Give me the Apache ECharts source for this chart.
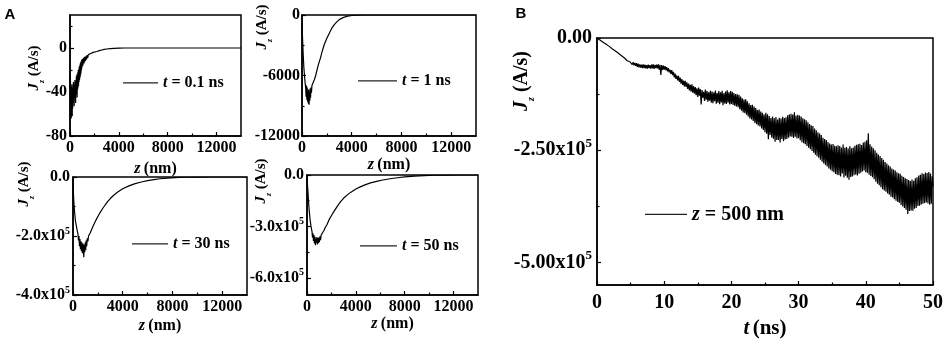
<!DOCTYPE html>
<html><head><meta charset="utf-8">
<script src="https://cdn.jsdelivr.net/npm/echarts@6/dist/echarts.min.js"></script>
<style>html,body{margin:0;padding:0;background:#fff}#c{width:951px;height:347px}</style>
</head><body><div id="c"></div>
<script>
// ---------- DATA ----------
// Panel A: J_z vs z (nm) at four times, [z, Jz]
const curveA1 = [[0,-24],[20,-38],[40,-30],[60,-52],[80,-35],[100,-64],[120,-41],[140,-58],[160,-33],[180,-62],[200,-45],[220,-55],[240,-36],[260,-50],[280,-31],[300,-48],[320,-38],[340,-53],[360,-33],[380,-46],[400,-29],[420,-44],[440,-35],[460,-50],[480,-30],[500,-42],[520,-26],[540,-40],[560,-24],[580,-45],[600,-28],[620,-38],[640,-22],[660,-36],[680,-20],[700,-34],[720,-19],[740,-31],[760,-17],[780,-29],[800,-16],[820,-27],[840,-14],[860,-25],[880,-13],[900,-23],[920,-12],[940,-20],[960,-11],[980,-18],[1000,-10],[1050,-16],[1100,-9],[1150,-14],[1200,-8],[1250,-12],[1300,-7.5],[1350,-10.5],[1400,-6.5],[1450,-9],[1500,-6],[1600,-7.5],[1700,-5],[1800,-5.8],[1900,-4],[2000,-4.3],[2200,-3.2],[2400,-2.4],[2600,-1.8],[2800,-1.3],[3000,-0.9],[3300,-0.5],[3600,-0.3],[4000,-0.1],[4500,0],[8000,0],[14000,0]];
const curveA2 = [[0,-800],[50,-2500],[100,-4000],[150,-5200],[200,-6000],[250,-6700],[300,-7300],[330,-8100],[360,-7000],[390,-8400],[420,-7200],[450,-8600],[480,-7500],[510,-8800],[540,-7400],[570,-8900],[600,-7600],[630,-8500],[660,-7300],[690,-8200],[720,-7200],[760,-7700],[800,-7000],[850,-7100],[900,-6700],[1000,-6400],[1100,-6000],[1200,-5500],[1300,-5000],[1400,-4600],[1500,-4200],[1600,-3700],[1700,-3300],[1800,-2900],[1900,-2600],[2000,-2300],[2200,-1800],[2400,-1300],[2600,-950],[2800,-680],[3000,-460],[3300,-260],[3600,-130],[4000,-50],[4500,-10],[5000,0],[14000,0]];
const curveA3 = [[0,-5000],[30,-50000],[60,-80000],[100,-105000],[150,-128000],[200,-150000],[270,-166000],[340,-182000],[400,-193000],[440,-215000],[480,-200000],[520,-235000],[560,-210000],[600,-245000],[640,-218000],[680,-252000],[720,-222000],[760,-258000],[800,-226000],[840,-248000],[870,-272000],[900,-230000],[940,-255000],[980,-222000],[1020,-248000],[1060,-215000],[1100,-235000],[1150,-208000],[1200,-218000],[1250,-200000],[1300,-200000],[1400,-188000],[1500,-178000],[1600,-168000],[1700,-159000],[1800,-150000],[1900,-142000],[2000,-134000],[2200,-119000],[2400,-106000],[2600,-94000],[2800,-83000],[3000,-73000],[3300,-61000],[3600,-51000],[4000,-40000],[4500,-30000],[5000,-22500],[5500,-17000],[6000,-12500],[6500,-9000],[7000,-6000],[7600,-3500],[8200,-2000],[9000,-800],[10000,-200],[11000,0],[14000,0]];
const curveA4 = [[0,-20000],[40,-60000],[80,-100000],[130,-160000],[190,-216000],[260,-265000],[330,-300000],[410,-330000],[450,-365000],[490,-340000],[530,-385000],[570,-350000],[610,-400000],[650,-360000],[690,-410000],[730,-370000],[770,-395000],[810,-362000],[850,-405000],[890,-368000],[930,-398000],[970,-365000],[1010,-392000],[1060,-358000],[1110,-380000],[1160,-350000],[1220,-360000],[1300,-340000],[1400,-322000],[1500,-305000],[1630,-290000],[1800,-262000],[2040,-232000],[2250,-208000],[2450,-186000],[2700,-160000],[2990,-136000],[3300,-116000],[3600,-100000],[4000,-82000],[4400,-68000],[4800,-56000],[5200,-46000],[5700,-37000],[6200,-29000],[6800,-22000],[7400,-16000],[8000,-11000],[8800,-6500],[9600,-3500],[10500,-1500],[11500,-500],[12500,-100],[14000,0]];

// Panel B: J_z vs t (ns) at z = 500 nm, sampled every dtB ns
const dtB = 0.125;
const jB = [
-0e3,-1.3e3,-2.4e3,-3.9e3,-5.1e3,-6.2e3,-7.6e3,-8.8e3,
-10.1e3,-11.6e3,-12.7e3,-13.9e3,-15.3e3,-16.2e3,-17.9e3,-19.2e3,
-21.3e3,-22.4e3,-23.8e3,-25.1e3,-26.0e3,-27.7e3,-29.1e3,-30.2e3,
-31.8e3,-33.6e3,-35.0e3,-36.3e3,-37.2e3,-39.4e3,-40.6e3,-42.1e3,
-44.5e3,-45.2e3,-47.8e3,-48.1e3,-50.6e3,-50.9e3,-53.2e3,-52.8e3,
-57.2e3,-52.1e3,-59.4e3,-53.8e3,-61.0e3,-55.3e3,-62.2e3,-56.0e3,
-64.1e3,-57.0e3,-65.3e3,-58.6e3,-66.0e3,-59.1e3,-67.2e3,-58.8e3,
-66.9e3,-59.5e3,-67.8e3,-60.2e3,-68.4e3,-59.3e3,-67.1e3,-60.6e3,
-68.2e3,-59.0e3,-67.5e3,-58.7e3,-69.0e3,-60.1e3,-66.9e3,-59.2e3,
-67.8e3,-58.9e3,-70.3e3,-59.6e3,-82.0e3,-60.5e3,-70.9e3,-61.4e3,
-70.2e3,-62.4e3,-71.8e3,-64.9e3,-74.3e3,-67.1e3,-76.5e3,-70.8e3,
-80.1e3,-71.6e3,-82.9e3,-75.4e3,-87.6e3,-79.2e3,-91.0e3,-83.5e3,
-94.3e3,-84.1e3,-97.5e3,-88.0e3,-101.9e3,-91.6e3,-104.2e3,-94.8e3,
-107.6e3,-95.2e3,-109.1e3,-98.7e3,-113.5e3,-101.4e3,-116.8e3,-104.0e3,
-119.3e3,-103.2e3,-121.7e3,-106.9e3,-124.0e3,-109.5e3,-127.1e3,-111.8e3,
-131.5e3,-110.4e3,-128.2e3,-113.7e3,-148.0e3,-116.1e3,-133.0e3,-119.6e3,
-140.2e3,-114.8e3,-137.5e3,-118.3e3,-141.9e3,-121.0e3,-139.4e3,-117.6e3,
-143.8e3,-119.5e3,-145.1e3,-121.2e3,-140.6e3,-116.9e3,-146.3e3,-122.7e3,
-144.0e3,-118.2e3,-147.5e3,-120.9e3,-143.3e3,-117.5e3,-149.8e3,-123.1e3,
-145.6e3,-119.4e3,-146.9e3,-116.2e3,-144.1e3,-120.7e3,-148.2e3,-118.0e3,
-146.7e3,-119.9e3,-149.3e3,-122.5e3,-151.0e3,-124.8e3,-152.6e3,-125.3e3,
-154.1e3,-126.3e3,-158.7e3,-130.2e3,-162.0e3,-134.4e3,-165.9e3,-137.1e3,
-167.2e3,-136.5e3,-170.8e3,-141.0e3,-174.6e3,-145.3e3,-178.9e3,-149.2e3,
-181.4e3,-148.6e3,-185.0e3,-152.7e3,-189.3e3,-156.2e3,-191.8e3,-160.5e3,
-194.6e3,-159.1e3,-197.2e3,-163.8e3,-201.5e3,-166.4e3,-205.0e3,-170.2e3,
-209.7e3,-166.3e3,-213.4e3,-170.1e3,-225.6e3,-173.8e3,-216.0e3,-178.2e3,
-221.5e3,-174.9e3,-224.2e3,-178.6e3,-230.8e3,-176.0e3,-226.9e3,-181.3e3,
-227.3e3,-177.8e3,-232.5e3,-179.2e3,-225.1e3,-175.4e3,-229.9e3,-178.0e3,
-226.0e3,-176.3e3,-224.7e3,-172.1e3,-221.9e3,-170.6e3,-219.4e3,-168.8e3,
-220.1e3,-170.2e3,-222.8e3,-165.5e3,-219.7e3,-172.9e3,-223.6e3,-171.1e3,
-223.0e3,-172.4e3,-227.5e3,-174.8e3,-231.9e3,-178.6e3,-234.2e3,-181.0e3,
-236.8e3,-183.2e3,-240.5e3,-187.9e3,-244.1e3,-191.6e3,-247.8e3,-194.3e3,
-251.7e3,-196.0e3,-255.3e3,-201.8e3,-259.9e3,-205.4e3,-263.1e3,-209.7e3,
-266.8e3,-212.5e3,-271.0e3,-216.3e3,-275.6e3,-221.9e3,-279.2e3,-224.8e3,
-282.7e3,-227.1e3,-285.9e3,-231.5e3,-290.4e3,-234.8e3,-293.1e3,-237.0e3,
-296.5e3,-236.2e3,-299.0e3,-239.8e3,-302.7e3,-241.1e3,-304.4e3,-238.6e3,
-305.8e3,-240.7e3,-308.1e3,-243.9e3,-301.6e3,-237.4e3,-310.5e3,-244.2e3,
-306.9e3,-242.5e3,-311.3e3,-246.0e3,-315.8e3,-240.8e3,-309.2e3,-245.7e3,
-308.4e3,-244.1e3,-305.7e3,-240.2e3,-303.9e3,-237.6e3,-306.2e3,-236.9e3,
-302.1e3,-235.4e3,-299.8e3,-238.1e3,-297.5e3,-232.7e3,-294.9e3,-231.2e3,
-298.8e3,-227.5e3,-300.3e3,-212.0e3,-304.6e3,-236.9e3,-307.2e3,-241.4e3,
-309.8e3,-245.6e3,-314.5e3,-250.1e3,-319.9e3,-255.7e3,-324.3e3,-259.2e3,
-327.6e3,-262.8e3,-332.1e3,-267.0e3,-336.5e3,-271.4e3,-339.8e3,-275.9e3,
-342.4e3,-279.3e3,-346.1e3,-283.6e3,-349.0e3,-286.2e3,-353.7e3,-290.5e3,
-355.2e3,-292.8e3,-358.9e3,-295.1e3,-362.4e3,-298.7e3,-365.0e3,-301.3e3,
-366.8e3,-302.5e3,-371.9e3,-306.6e3,-375.3e3,-309.4e3,-378.7e3,-312.2e3,
-382.5e3,-313.8e3,-392.0e3,-316.0e3,-385.1e3,-318.4e3,-383.9e3,-315.2e3,
-384.6e3,-317.7e3,-380.2e3,-312.3e3,-378.5e3,-309.9e3,-374.0e3,-306.1e3,
-373.3e3,-304.8e3,-370.6e3,-301.2e3,-368.9e3,-302.7e3,-367.1e3,-299.5e3,
-366.2e3,-300.9e3,-368.4e3,-298.2e3,-371.0e3,-301.6e3,-369.3e3,-308.0e3,
-330e3
];

// Series names (legend texts)
const namesA = ['t = 0.1 ns', 't = 1 ns', 't = 30 ns', 't = 50 ns'];
const nameB = 'z = 500 nm';

// Tick values
const zTicksA = [0, 4000, 8000, 12000];
const zMinorA = [2000, 6000, 10000];
const yTicksA1 = [-80, -40, 0];            const yMinorA1 = [-60, -20, 20];
const yTicksA2 = [-12000, -6000, 0];       const yMinorA2 = [-9000, -3000];
const yTicksA3 = [-4e5, -2e5, 0];          const yMinorA3 = [-3e5, -1e5];
const yTicksA4 = [-6e5, -3e5, 0];          const yMinorA4 = [-4.5e5, -1.5e5];
const tTicksB = [0, 10, 20, 30, 40, 50];   const tMinorB = [5, 15, 25, 35, 45];
const yTicksB = [-5e5, -2.5e5, 0];         const yMinorB = [-3.75e5, -1.25e5];

// ---------- CHART ----------
const F = 'Liberation Serif';
const chart = echarts.init(document.getElementById('c'), null, {renderer: 'canvas'});

const grids = [
  {left: 70, top: 15, width: 171, height: 121},
  {left: 302, top: 15, width: 174, height: 121},
  {left: 73, top: 177, width: 174, height: 118},
  {left: 307, top: 175, width: 171, height: 120},
  {left: 597, top: 38, width: 336, height: 247}
].map(g => Object.assign(g, {show: true, borderColor: '#000', borderWidth: 1.5, backgroundColor: 'transparent', containLabel: false}));

const plainFmt = v => '{m|' + v + '}';
const sci1 = v => v === 0 ? '{m|0.0}' : '{m|' + (v / 1e5).toFixed(1) + 'x10}{s|5}';
const sci2 = v => v === 0 ? '{m|0.00}' : '{m|' + (v / 1e5).toFixed(2) + 'x10}{s|5}';
const richA = {m: {fontFamily: F, fontWeight: 'bold', fontSize: 16, lineHeight: 20, color: '#000'},
               s: {fontFamily: F, fontWeight: 'bold', fontSize: 10, lineHeight: 10, verticalAlign: 'top', color: '#000'}};
const richB = {m: {fontFamily: F, fontWeight: 'bold', fontSize: 20, lineHeight: 26, color: '#000'},
               s: {fontFamily: F, fontWeight: 'bold', fontSize: 13, lineHeight: 13, verticalAlign: 'top', color: '#000'}};
const titleRich = (fs) => ({i: {fontFamily: F, fontWeight: 'bold', fontStyle: 'italic', fontSize: fs, color: '#000'},
                            n: {fontFamily: F, fontWeight: 'bold', fontSize: fs, color: '#000'}});

function mainAxis(dim, gi, min, max, ticks, fmt, rich, margin, extra) {
  return Object.assign({
    type: 'value', gridIndex: gi, min: min, max: max,
    position: dim === 'x' ? 'bottom' : 'left',
    axisLine: {show: true, onZero: false, lineStyle: {color: '#000', width: 1.5}},
    axisTick: {show: true, inside: true, length: 4, lineStyle: {color: '#000', width: 1.2}, customValues: ticks},
    axisLabel: {show: true, customValues: ticks, formatter: fmt, rich: rich, margin: margin, color: '#000'},
    splitLine: {show: false}
  }, extra || {});
}
function minorAxis(dim, gi, min, max, ticks) {
  return {
    type: 'value', gridIndex: gi, min: min, max: max,
    position: dim === 'x' ? 'bottom' : 'left',
    axisLine: {show: false, onZero: false},
    axisTick: {show: true, inside: true, length: 2.5, lineStyle: {color: '#000', width: 1.2}, customValues: ticks},
    axisLabel: {show: false},
    splitLine: {show: false}
  };
}
const zName = (gap) => ({name: '{i|z} {n|(nm)}', nameLocation: 'middle', nameGap: gap,
                         nameTextStyle: {rich: titleRich(16)}});

const xAxes = [
  mainAxis('x', 0, 0, 14000, zTicksA, plainFmt, richA, 2, zName(25)),
  mainAxis('x', 1, 0, 14000, zTicksA, plainFmt, richA, 2, zName(19)),
  mainAxis('x', 2, 0, 14000, zTicksA, plainFmt, richA, 2, zName(23)),
  mainAxis('x', 3, 0, 14000, zTicksA, plainFmt, richA, 2, zName(18)),
  mainAxis('x', 4, 0, 50, tTicksB, plainFmt, richB, 5,
    {name: '{i|t} {n|(ns)}', nameLocation: 'middle', nameGap: 31, nameTextStyle: {rich: titleRich(21)}}),
  minorAxis('x', 0, 0, 14000, zMinorA),
  minorAxis('x', 1, 0, 14000, zMinorA),
  minorAxis('x', 2, 0, 14000, zMinorA),
  minorAxis('x', 3, 0, 14000, zMinorA),
  minorAxis('x', 4, 0, 50, tMinorB)
];
const yAxes = [
  mainAxis('y', 0, -80, 30, yTicksA1, plainFmt, richA, 3),
  mainAxis('y', 1, -12000, 0, yTicksA2, plainFmt, richA, 2),
  mainAxis('y', 2, -4e5, 0, yTicksA3, sci1, richA, 3),
  mainAxis('y', 3, -7e5, 0, yTicksA4, sci1, richA, 3),
  mainAxis('y', 4, -5.5e5, 0, yTicksB, sci2, richB, 5),
  minorAxis('y', 0, -80, 30, yMinorA1),
  minorAxis('y', 1, -12000, 0, yMinorA2),
  minorAxis('y', 2, -4e5, 0, yMinorA3),
  minorAxis('y', 3, -7e5, 0, yMinorA4),
  minorAxis('y', 4, -5.5e5, 0, yMinorB)
];

const curvesA = [curveA1, curveA2, curveA3, curveA4];
const series = curvesA.map((c, i) => ({
  type: 'line', name: namesA[i], xAxisIndex: i, yAxisIndex: i, data: c,
  symbol: 'none', showSymbol: false, color: '#000',
  lineStyle: {color: '#000', width: 1.2}, silent: true, animation: false
}));
series.push({
  type: 'line', name: nameB, xAxisIndex: 4, yAxisIndex: 4,
  data: jB.map((v, i) => [i * dtB, v]),
  symbol: 'none', showSymbol: false, color: '#000',
  lineStyle: {color: '#000', width: 1.2}, silent: true, animation: false
});

const legFmt = name => '{i|' + name.charAt(0) + '}{n|' + name.slice(1) + '}';
function leg(name, left, lineY, w, fs, off) {
  return {data: [name], left: left, top: lineY - 0.6 - off, itemWidth: w, itemHeight: 1.2, padding: 0,
          icon: 'rect', itemStyle: {color: '#222'},
          selectedMode: false, formatter: legFmt,
          textStyle: {rich: titleRich(fs)}};
}
const legends = [
  leg(namesA[0], 123, 82, 35, 16, 6.5),
  leg(namesA[1], 358, 80, 39, 16, 6.5),
  leg(namesA[2], 132, 243, 36, 16, 6.5),
  leg(namesA[3], 360, 245, 37, 16, 6.5),
  leg(nameB, 645, 213, 42, 20, 8)
];

const jRich = (fs, sub) => ({
  i: {fontFamily: F, fontWeight: 'bold', fontStyle: 'italic', fontSize: fs, lineHeight: fs + 8, fill: '#000'},
  z: {fontFamily: F, fontWeight: 'bold', fontStyle: 'italic', fontSize: sub, lineHeight: sub, verticalAlign: 'bottom', fill: '#000'},
  n: {fontFamily: F, fontWeight: 'bold', fontSize: fs, lineHeight: fs + 8, fill: '#000'}
});
function yTitle(x, y, fs, sub) {
  return {type: 'text', x: x, y: y, rotation: Math.PI / 2, silent: true,
          style: {text: '{i|J}{z|z}{n| (A/s)}', rich: jRich(fs, sub), align: 'center', verticalAlign: 'middle'}};
}
const graphics = [
  {type: 'text', x: 10, y: 15, silent: true,
   style: {text: 'A', font: 'bold 15px "Liberation Sans"', fill: '#000', align: 'center', verticalAlign: 'middle'}},
  {type: 'text', x: 521, y: 14, silent: true,
   style: {text: 'B', font: 'bold 15px "Liberation Sans"', fill: '#000', align: 'center', verticalAlign: 'middle'}},
  yTitle(34, 68, 15, 8),
  yTitle(262, 27, 15, 8),
  yTitle(24, 184, 15, 8),
  yTitle(261, 181, 15, 8),
  yTitle(522, 81, 20, 10)
];

chart.setOption({
  backgroundColor: '#fff',
  animation: false,
  grid: grids,
  xAxis: xAxes,
  yAxis: yAxes,
  legend: legends,
  series: series,
  graphic: graphics
});
</script></body></html>
